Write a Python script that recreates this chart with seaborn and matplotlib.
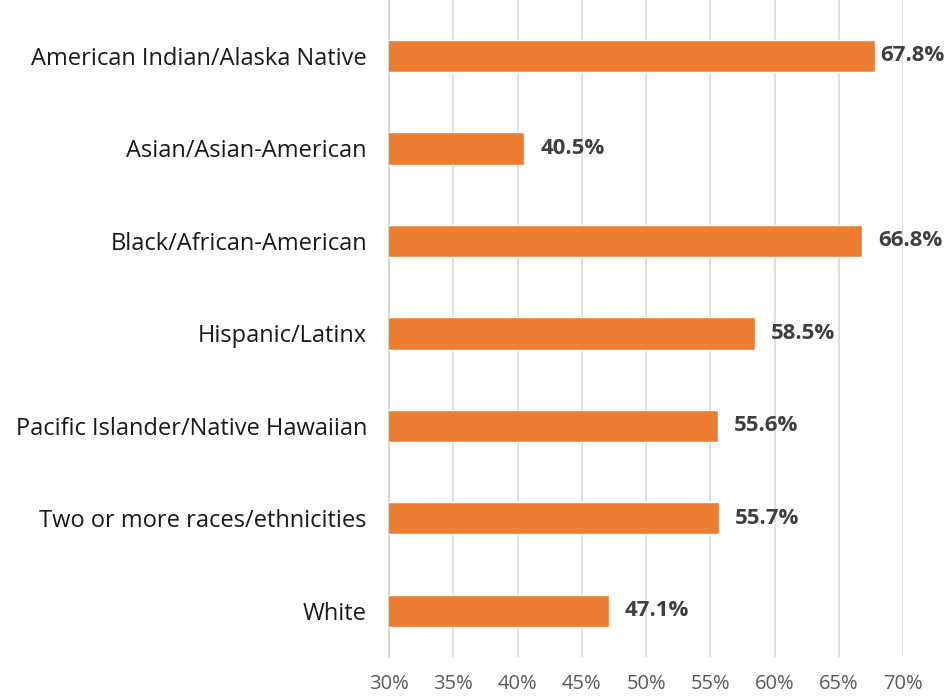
import numpy as np
import pandas as pd
import seaborn as sns
import matplotlib.pyplot as plt
from matplotlib.ticker import FuncFormatter

groups = ["American Indian/Alaska Native", "Asian/Asian-American",
          "Black/African-American", "Hispanic/Latinx",
          "Pacific Islander/Native Hawaiian", "Two or more races/ethnicities",
          "White"]
rates = [67.8, 40.5, 66.8, 58.5, 55.6, 55.7, 47.1]
ticks = [30, 35, 40, 45, 50, 55, 60, 65, 70]

df = pd.DataFrame({"group": groups, "rate": rates})

sns.set_theme(style="white")
plt.rcParams['font.family'] = ['Open Sans', 'DejaVu Sans']

fig = plt.figure(figsize=(9.47, 6.98), dpi=100)
ax = fig.add_axes([0.411, 0.0587, 0.5425, 0.9413])

sns.barplot(data=df, x="rate", y="group", color="#ED7D31", saturation=1,
            width=0.35, ax=ax, zorder=3)

ax.set_xlim(30, 70)
ax.set_ylim(6.5, -0.605)
ax.set_xticks(ticks)
ax.xaxis.set_major_formatter(FuncFormatter(lambda v, p: f"{v:.0f}%"))
ax.grid(axis="x", color="#d9d9d9", lw=1.2, zorder=0)
ax.set_xlabel("")
ax.set_ylabel("")
for s in ["top", "right", "bottom"]:
    ax.spines[s].set_visible(False)
ax.spines["left"].set_color("#d0d0d0")
ax.spines["left"].set_linewidth(1.2)
ax.tick_params(axis="y", length=0, pad=16, labelsize=17, labelcolor="#1a1a1a")
ax.tick_params(axis="x", length=0, pad=12, labelsize=14.5, labelcolor="#595959")

# labels sit just right of the bar, pulled in when they'd run off the figure
for i, v in enumerate(rates):
    ax.text(min(v + 1.25, 68.2), i, f"{v}%", va="center", ha="left",
            fontsize=16, fontweight="bold", color="#404040", clip_on=False)

fig.savefig("out.png", dpi=100)
